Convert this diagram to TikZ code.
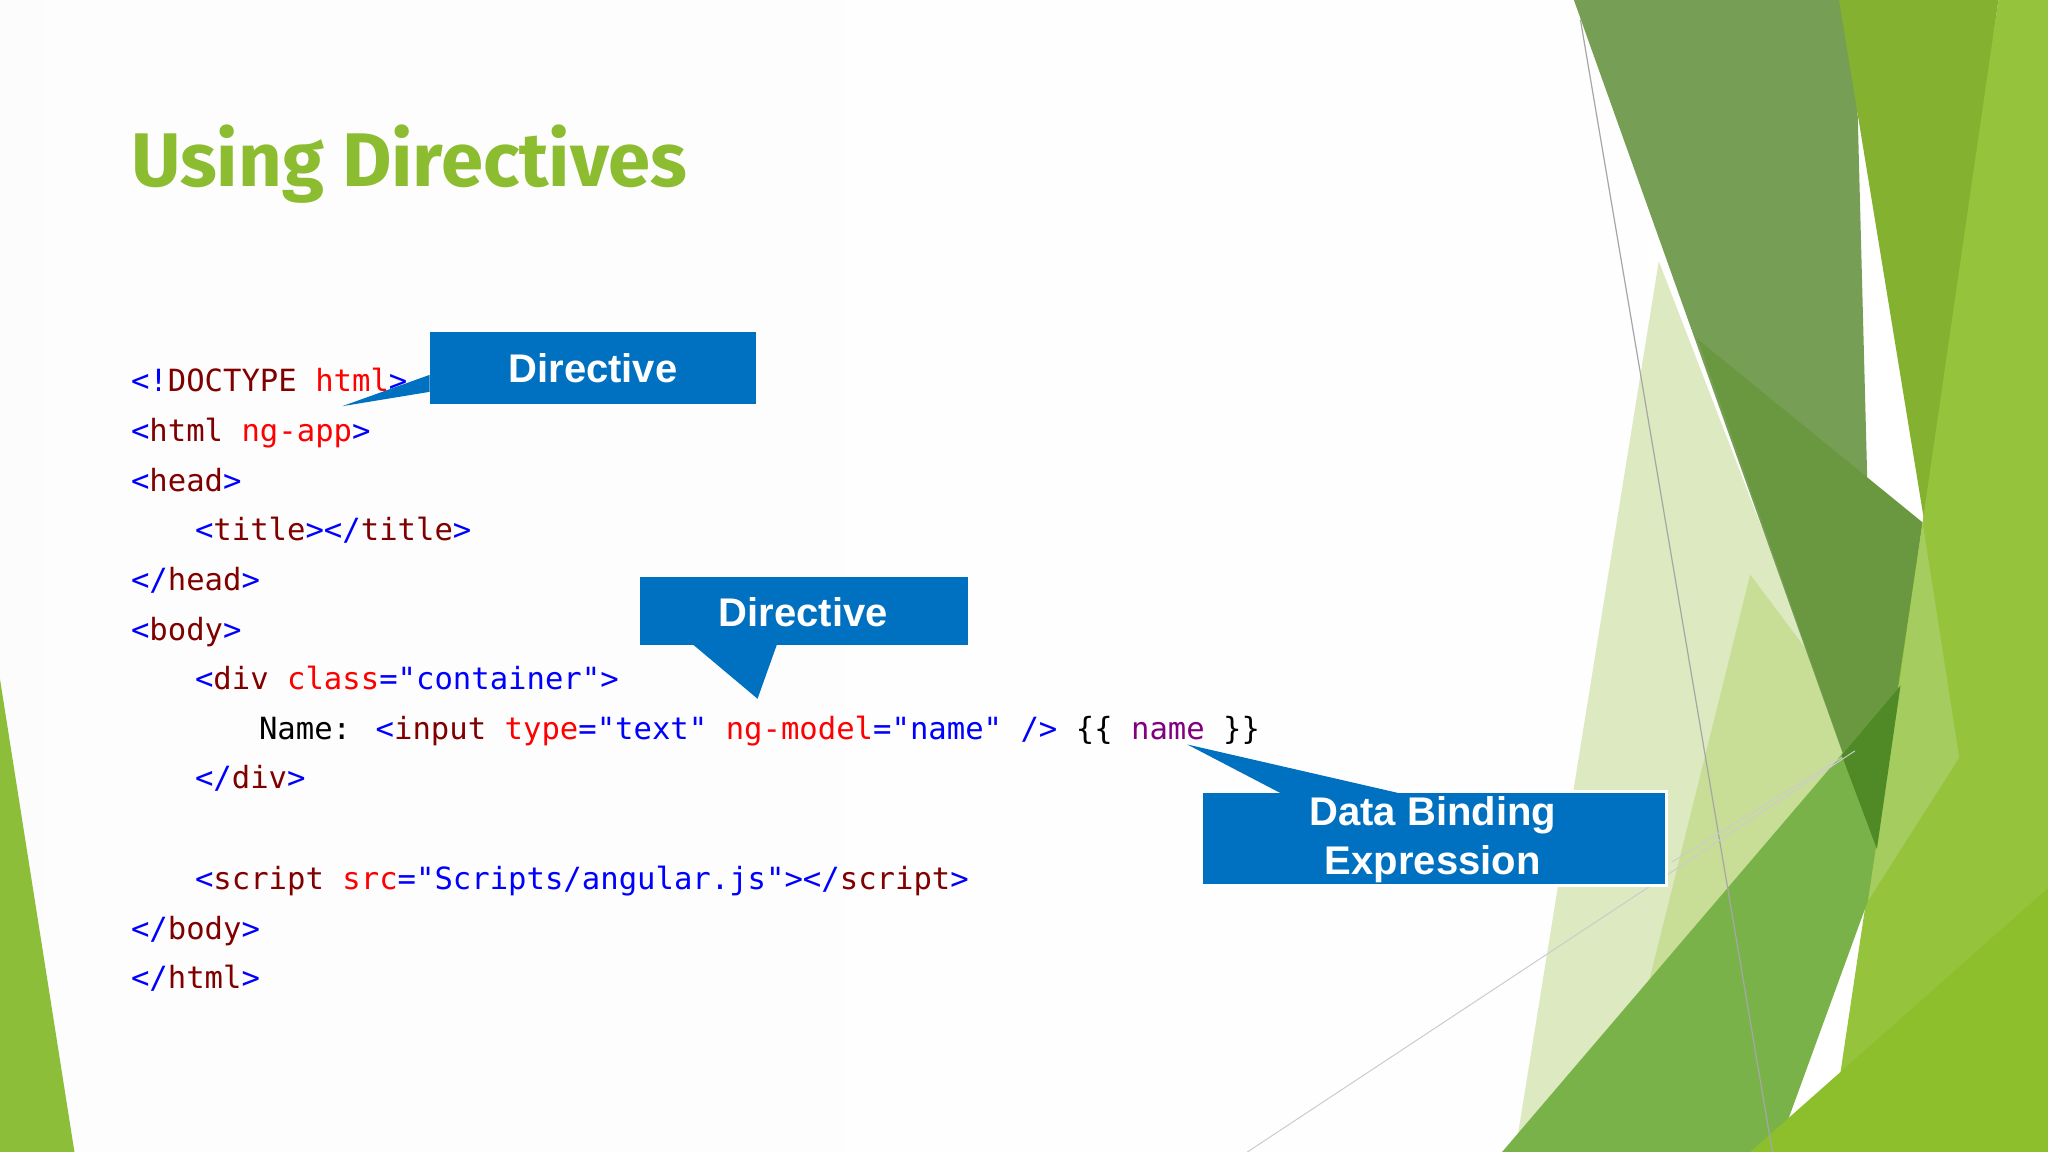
\documentclass[tikz,border=0pt]{standalone}
\usepackage{fontspec}
\setmainfont{Liberation Sans}
\newfontfamily\code{DejaVu Sans Mono}
\newfontfamily\ttl{Fira Sans}
\definecolor{cB}{RGB}{0,0,255}
\definecolor{cT}{RGB}{128,0,0}
\definecolor{cA}{RGB}{255,0,0}
\definecolor{cP}{RGB}{128,0,128}
\definecolor{callblue}{RGB}{0,112,192}
\definecolor{ttlgreen}{RGB}{140,188,47}
\newcommand{\cb}[1]{\textcolor{cB}{#1}}
\newcommand{\ct}[1]{\textcolor{cT}{#1}}
\newcommand{\ca}[1]{\textcolor{cA}{#1}}
\newcommand{\cp}[1]{\textcolor{cP}{#1}}
\tikzset{
 codeline/.style={anchor=base west,inner sep=0,font=\code\fontsize{15.3}{18}\selectfont},
 callout/.style={fill=callblue,draw=none},
 calltext/.style={text=white,font=\bfseries\fontsize{20}{24}\selectfont,align=center},
}
\begin{document}
\begin{tikzpicture}[x=0.653pt,y=-0.653pt]
\useasboundingbox (0,0) rectangle (1568,882);
\fill[white!98!gray] (0,0) rectangle (1568,882);
% background decoration
\fill[left color=white!98!gray] (0,0) rectangle (1568,882);
\fill[fill={rgb,255:red,221;green,233;blue,192}] (1270,200) -- (1440,640) -- (1210,882) -- (1160,882) -- cycle;
\fill[fill={rgb,255:red,200;green,222;blue,150}] (1340,440) -- (1460,600) -- (1300,882) -- (1230,882) -- cycle;
\fill[fill={rgb,255:red,118;green,158;blue,84}] (1205,0) -- (1420,0) -- (1437,650) -- cycle;
\fill[fill={rgb,255:red,106;green,152;blue,64}] (1300,260) -- (1472,400) -- (1437,650) -- cycle;
\fill[fill={rgb,255:red,132;green,178;blue,48}] (1408,0) -- (1530,0) -- (1475,410) -- cycle;
\fill[fill={rgb,255:red,149;green,196;blue,60}] (1530,0) -- (1568,0) -- (1568,882) -- (1400,882) -- (1472,400) -- cycle;
\fill[fill={rgb,255:red,165;green,204;blue,95}] (1472,400) -- (1500,580) -- (1430,690) -- cycle;
\fill[fill={rgb,255:red,122;green,178;blue,74}] (1150,882) -- (1455,525) -- (1430,690) -- (1360,882) -- cycle;
\fill[fill={rgb,255:red,80;green,138;blue,38}] (1410,578) -- (1455,525) -- (1437,650) -- cycle;
\fill[fill={rgb,255:red,141;green,191;blue,44}] (1340,882) -- (1568,680) -- (1568,882) -- cycle;
\draw[gray!70,line width=0.6pt] (1210,15) -- (1357,882);
\draw[gray!40,line width=0.5pt] (955,882) -- (1420,575);
\draw[gray!40,line width=0.5pt] (1280,660) -- (1410,580);
\fill[fill={rgb,255:red,141;green,190;blue,58}] (0,520) -- (0,882) -- (57,882) -- cycle;
% title
\node[anchor=base west,inner sep=0,text=ttlgreen,font=\ttl\bfseries\fontsize{38}{44}\selectfont] (title) at (100,143) {Using Directives};
% code
\node[codeline] (l1) at (100,300) {\cb{<!}\ct{DOCTYPE} \ca{html}\cb{>}};
\node[codeline] (l2) at (100,338) {\cb{<}\ct{html} \ca{ng-app}\cb{>}};
\node[codeline] (l3) at (100,376) {\cb{<}\ct{head}\cb{>}};
\node[codeline] (l4) at (149,414) {\cb{<}\ct{title}\cb{></}\ct{title}\cb{>}};
\node[codeline] (l5) at (100,452) {\cb{</}\ct{head}\cb{>}};
\node[codeline] (l6) at (100,490) {\cb{<}\ct{body}\cb{>}};
\node[codeline] (l7) at (149,528) {\cb{<}\ct{div} \ca{class}\cb{="container">}};
\node[codeline] (l8) at (198,566) {Name: \cb{<}\ct{input} \ca{type}\cb{="text"} \ca{ng-model}\cb{="name"} \cb{/>} \{\{ \cp{name} \}\}};
\node[codeline] (l9) at (149,604) {\cb{</}\ct{div}\cb{>}};
\node[codeline] (l10) at (149,681) {\cb{<}\ct{script} \ca{src}\cb{="Scripts/angular.js"></}\ct{script}\cb{>}};
\node[codeline] (l11) at (100,719) {\cb{</}\ct{body}\cb{>}};
\node[codeline] (l12) at (100,757) {\cb{</}\ct{html}\cb{>}};
% callout 1
\coordinate (t1) at (262,311);
\fill[callout] (329,254) rectangle (579,309);
\fill[callout] (329,287) -- (t1) -- (329,300) -- cycle;
\node[calltext] (c1) at (454,282) {Directive};
% callout 2
\coordinate (t2) at (580,535);
\fill[callout] (490,442) rectangle (741,494);
\fill[callout] (530,493) -- (t2) -- (595,493) -- cycle;
\node[calltext] (c2) at (615,469) {Directive};
% callout 3
\coordinate (t3) at (909,570);
\fill[callout,draw=white,line width=1.5pt] (920,606) rectangle (1276,678);
\fill[callout] (980,607) -- (t3) -- (1070,607) -- cycle;
\node[calltext,font=\bfseries\fontsize{20}{24.5}\selectfont] (c3) at (1097,643) {Data Binding\\Expression};
\end{tikzpicture}
\end{document}
